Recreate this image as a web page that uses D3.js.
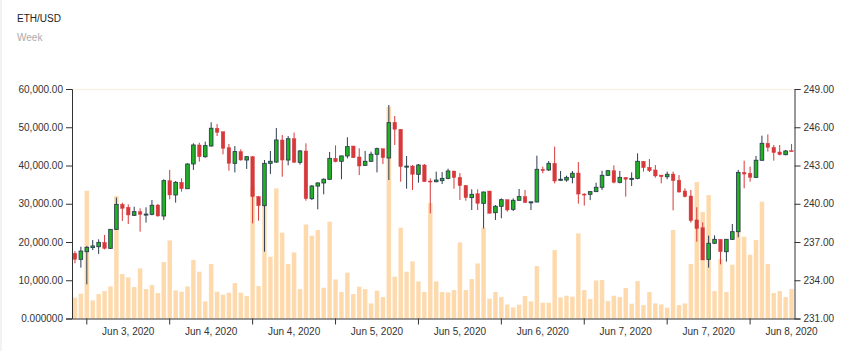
<!DOCTYPE html>
<html>
<head>
<meta charset="utf-8">
<script src="https://cdn.jsdelivr.net/npm/d3@7"></script>
<style>
  html, body { margin: 0; padding: 0; background: #fff; }
  svg { display: block; font-family: "Liberation Sans", Arial, sans-serif; }
</style>
</head>
<body>
<svg id="chart" width="849" height="351"></svg>
<script>
// ---- Data ----
const title = "ETH/USD";
const subtitle = "Week";

const opens = [236.11,235.64,236.24,236.56,236.63,236.97,236.50,237.99,239.95,239.72,
  239.09,239.38,239.17,239.17,239.90,239.04,241.81,240.69,241.68,241.18,
  243.12,244.61,243.69,244.53,245.92,245.65,244.40,243.17,244.09,243.43,
  243.69,240.56,239.85,243.17,243.27,245.00,243.43,245.10,243.25,244.14,
  240.40,241.39,241.63,241.92,243.56,243.33,243.75,244.53,243.67,243.01,
  243.33,243.88,244.32,243.59,246.39,245.84,242.93,242.96,242.31,243.04,
  241.78,241.73,241.81,241.99,242.57,242.07,241.44,240.48,240.79,240.03,
  241.00,239.30,239.80,240.32,239.56,240.27,240.56,240.14,240.14,242.70,
  242.65,243.17,241.84,241.86,242.07,242.41,240.76,240.74,240.95,241.29,
  242.23,242.59,241.68,242.07,241.92,241.99,243.33,242.86,242.65,242.25,
  242.12,242.33,241.84,241.00,240.61,238.73,238.12,235.64,236.90,237.21,
  236.24,237.21,237.81,242.46,242.39,242.07,243.41,244.74,244.42,244.06,
  243.85,244.16];
const highs = [236.29,236.63,236.69,237.16,237.21,237.55,238.02,240.48,240.09,239.95,
  239.77,239.64,239.72,240.29,239.98,241.92,242.65,241.78,241.99,243.17,
  244.74,244.79,244.87,246.39,246.25,245.65,244.69,244.53,244.27,243.75,
  243.75,240.61,243.43,244.14,245.94,245.39,245.31,245.58,244.22,244.74,
  241.47,241.68,241.99,244.06,244.58,243.77,245.21,244.53,244.35,244.14,
  244.09,244.40,244.32,247.75,246.88,245.84,243.75,243.04,243.12,243.12,
  241.99,242.52,242.49,242.75,242.57,242.41,241.44,241.13,241.13,240.95,
  241.00,239.90,240.42,240.32,240.42,241.16,241.08,240.15,243.77,242.91,
  243.35,244.48,242.57,242.20,242.57,243.27,240.82,241.00,241.65,242.59,
  242.65,243.01,242.57,242.07,242.46,243.95,243.35,243.51,243.04,242.25,
  242.52,242.52,242.25,241.21,241.08,239.72,238.54,237.50,237.52,237.21,
  237.21,238.41,242.65,243.38,242.91,243.75,245.34,245.44,244.61,244.61,
  244.22,244.69];
const lows = [235.33,234.99,233.68,236.37,236.06,236.42,236.45,237.94,238.65,238.41,
  239.04,237.81,238.52,239.09,238.99,238.73,240.35,240.09,240.95,241.16,
  242.65,243.30,243.61,244.48,245.31,243.88,242.59,242.46,243.38,242.73,
  238.46,238.67,236.24,242.33,243.22,242.12,243.01,243.22,243.07,240.24,
  240.29,239.56,240.74,241.86,243.25,241.92,243.56,243.61,242.25,242.99,
  243.30,242.46,243.12,241.86,244.61,241.73,241.18,241.08,241.65,241.73,
  239.25,241.68,241.55,241.92,241.18,240.29,240.24,239.51,239.51,238.07,
  239.25,238.73,238.86,239.38,239.43,240.24,240.09,239.51,240.11,242.39,
  242.57,241.60,241.78,241.73,241.60,240.01,239.85,240.29,240.93,241.08,
  242.18,241.60,241.60,240.56,241.39,241.92,242.52,242.49,242.05,241.60,
  241.92,239.48,240.87,240.50,238.52,237.03,235.59,234.99,236.84,235.25,
  235.46,237.16,237.37,241.21,241.73,242.02,243.35,244.09,243.38,243.80,
  243.80,244.11];
const closes = [235.64,236.29,236.58,236.69,236.97,236.50,237.99,239.95,239.64,239.12,
  239.38,239.17,239.19,239.88,239.04,241.81,240.69,241.68,241.18,243.12,
  244.61,243.69,244.56,245.92,245.60,244.35,243.17,244.09,243.43,243.69,
  240.56,239.85,243.17,243.33,245.00,243.43,245.10,243.25,244.14,240.40,
  241.39,241.63,241.92,243.56,243.30,243.75,244.48,243.61,242.96,243.33,
  243.88,244.32,243.61,246.36,245.84,242.91,242.95,242.31,243.04,241.73,
  241.74,241.86,241.99,242.57,242.05,241.42,240.48,240.74,240.03,240.92,
  239.25,239.80,240.32,239.51,240.27,240.56,240.09,240.15,242.70,242.59,
  243.17,241.78,241.92,242.07,242.39,240.76,240.69,240.95,241.29,242.23,
  242.59,241.68,242.07,241.92,241.99,243.33,242.83,242.59,242.18,242.12,
  242.31,241.81,240.92,240.56,238.67,238.05,235.59,236.90,237.21,236.24,
  237.21,237.81,242.46,242.33,242.07,243.41,244.74,244.42,244.01,243.85,
  244.14,244.11];
const volumes = [5447,6493,33422,4750,6405,7190,8410,32028,11635,10763,
  8236,13116,7713,8758,6667,14772,20437,7364,7016,8410,
  15295,12245,4488,14249,7016,6231,6754,9282,6754,5883,
  34468,8497,31244,16166,34032,22441,14249,17299,7713,24620,
  21657,23138,8061,25317,10240,6928,11984,6405,8323,7713,
  3965,7277,5621,55378,10937,23748,12245,14946,9717,6928,
  30197,9717,6928,6841,7451,19914,7451,10327,14423,23748,
  5185,6928,5621,3704,2920,3617,5883,4488,13726,4140,
  4140,17909,5534,5970,5708,22267,7451,5098,9979,10066,
  4575,5970,5621,7974,3878,9804,3530,6928,3965,3704,
  2832,23138,3530,3965,14249,35688,27845,32289,7190,15556,
  6928,14074,33858,21395,16689,20524,30546,14249,6667,7190,
  5621,7713];

const xTickIndex = [2,16,30,44,58,72,86,100,114];
const xTickLabels = ["Jun 3, 2020","Jun 4, 2020","Jun 4, 2020","Jun 5, 2020","Jun 5, 2020",
  "Jun 6, 2020","Jun 7, 2020","Jun 7, 2020","Jun 8, 2020"];
const volumeTicks = [0,10000,20000,30000,40000,50000,60000];
const priceTicks = [231,234,237,240,243,246,249];

// ---- Layout ----
const svg = d3.select("#chart");
const plotLeft = 72, plotRight = 794.5, plotTop = 89, plotBottom = 318.5;
const upColor = "#1fb41f", downColor = "#d6393b", darkLine = "#2c3e50";
const volColor = "#fdd9ab";

const idx = d3.range(opens.length);
const x = d3.scaleBand().domain(idx).range([plotLeft, plotRight]).paddingInner(0.22).paddingOuter(0.11);
const yVol = d3.scaleLinear().domain([0, 60000]).range([plotBottom, plotTop]);
const yPrice = d3.scaleLinear().domain([231, 249]).range([plotBottom, plotTop]);

// left page edge strip
svg.append("rect").attr("x", 0).attr("y", 0).attr("width", 2).attr("height", 351).attr("fill", "#f3f3f3");

// titles
svg.append("text").attr("x", 17).attr("y", 22).attr("font-size", 10).attr("fill", "#222").text(title);
svg.append("text").attr("x", 17).attr("y", 41).attr("font-size", 10).attr("fill", "#aaa").text(subtitle);

// faint top line
svg.append("line").attr("x1", plotLeft).attr("x2", plotRight).attr("y1", plotTop + 0.5).attr("y2", plotTop + 0.5)
  .attr("stroke", "#faf1e8").attr("stroke-width", 1.5);

// volume bars
svg.append("g").selectAll("rect").data(idx).join("rect")
  .attr("x", i => x(i))
  .attr("width", x.bandwidth())
  .attr("y", i => yVol(volumes[i]))
  .attr("height", i => plotBottom - yVol(volumes[i]))
  .attr("fill", volColor)
  .attr("stroke", "#fff")
  .attr("stroke-opacity", 0.35)
  .attr("stroke-width", 0.6);

// candles
const bw = x.bandwidth() * 0.78;
const cg = svg.append("g").selectAll("g").data(idx).join("g");
cg.append("line")
  .attr("x1", i => x(i) + x.bandwidth() / 2)
  .attr("x2", i => x(i) + x.bandwidth() / 2)
  .attr("y1", i => yPrice(highs[i]))
  .attr("y2", i => yPrice(lows[i]))
  .attr("stroke", i => closes[i] >= opens[i] ? darkLine : downColor)
  .attr("stroke-width", 1);
cg.append("rect")
  .attr("x", i => x(i) + (x.bandwidth() - bw) / 2)
  .attr("width", bw)
  .attr("y", i => yPrice(Math.max(opens[i], closes[i])))
  .attr("height", i => Math.max(1, Math.abs(yPrice(opens[i]) - yPrice(closes[i]))))
  .attr("fill", i => closes[i] >= opens[i] ? upColor : downColor)
  .attr("stroke", i => closes[i] >= opens[i] ? darkLine : downColor)
  .attr("stroke-width", i => closes[i] >= opens[i] ? 0.9 : 0.4);

// axes
const axisColor = "#333";
const gL = svg.append("g").attr("transform", `translate(${plotLeft},0)`)
  .call(d3.axisLeft(yVol).tickValues(volumeTicks).tickFormat(d3.format(",.7r")));
const gR = svg.append("g").attr("transform", `translate(${plotRight},0)`)
  .call(d3.axisRight(yPrice).tickValues(priceTicks).tickFormat(d3.format(".5r")));
const gB = svg.append("g").attr("transform", `translate(0,${plotBottom})`)
  .call(d3.axisBottom(x).tickValues(xTickIndex).tickFormat((d, k) => xTickLabels[k]).tickSizeOuter(0));
// labels sit midway between ticks
gB.selectAll(".tick text").attr("x", x.step() * 7);
[gL, gR, gB].forEach(g => {
  g.attr("font-family", "'Liberation Sans', Arial, sans-serif").attr("font-size", 10);
  g.selectAll("path, line").attr("stroke", axisColor);
  g.selectAll("text").attr("fill", "#333");
});
</script>
</body>
</html>
